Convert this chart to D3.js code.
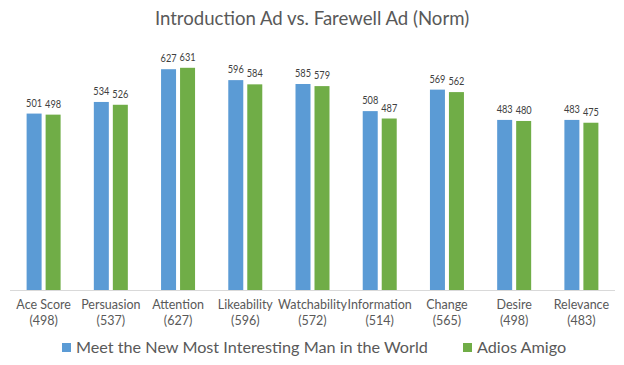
<!DOCTYPE html>
<html><head><meta charset="utf-8">
<script src="https://cdn.jsdelivr.net/npm/d3@7"></script>
<style>body{margin:0;background:#fff;} svg{display:block;font-family:Lato,"Open Sans",sans-serif;}</style>
</head><body>
<svg id="c" width="624" height="365"></svg>
<script>
const categories = ["Ace Score","Persuasion","Attention","Likeability","Watchability","Information","Change","Desire","Relevance"];
const norms = [498,537,627,596,572,514,565,498,483];
const seriesNames = ["Meet the New Most Interesting Man in the World","Adios Amigo"];
const introValues = [501,534,627,596,585,508,569,483,483];
const farewellValues = [498,526,631,584,579,487,562,480,475];
const colors = ["#5B9BD5","#70AD47"];

const svg = d3.select("#c");
const x = d3.scaleBand().domain(categories).range([10,615]).paddingInner(0).paddingOuter(0);
const y = d3.scaleLinear().domain([0,700]).range([290,43.5]);
const barW = 15, gap = 4;

svg.append("text").attr("x",312).attr("y",25).attr("text-anchor","middle")
  .attr("font-size",18.6).attr("fill","#595959").text("Introduction Ad vs. Farewell Ad (Norm)");

const series = [introValues, farewellValues];
series.forEach((vals, si) => {
  const g = svg.append("g");
  categories.forEach((c, i) => {
    const cx = x(c) + x.bandwidth()/2;
    const bx = si === 0 ? cx - gap/2 - barW : cx + gap/2;
    g.append("rect").attr("x",bx).attr("y",y(vals[i])).attr("width",barW)
      .attr("height",y(0)-y(vals[i])).attr("fill",colors[si]);
    g.append("text").attr("x",bx+barW/2).attr("y",y(vals[i])-7).attr("text-anchor","middle")
      .attr("font-size",12).attr("textLength",16).attr("lengthAdjust","spacingAndGlyphs")
      .attr("fill","#404040").text(vals[i]);
  });
});

svg.append("line").attr("x1",10).attr("x2",615).attr("y1",290.5).attr("y2",290.5)
  .attr("stroke","#D9D9D9").attr("stroke-width",1);

const xa = svg.append("g");
categories.forEach((c,i)=>{
  const cx = x(c) + x.bandwidth()/2;
  xa.append("text").attr("x",cx).attr("y",309).attr("text-anchor","middle").attr("font-size",12.5).attr("fill","#595959").text(c);
  xa.append("text").attr("x",cx).attr("y",324.5).attr("text-anchor","middle").attr("font-size",12.5).attr("fill","#595959").text("(" + norms[i] + ")");
});

const leg = svg.append("g");
const legX = [62, 463];
seriesNames.forEach((n,i)=>{
  leg.append("rect").attr("x",legX[i]).attr("y",343).attr("width",9).attr("height",9).attr("fill",colors[i]);
  leg.append("text").attr("x",legX[i]+14).attr("y",353).attr("font-size",16.2).attr("fill","#595959").text(n);
});
</script>
</body></html>
